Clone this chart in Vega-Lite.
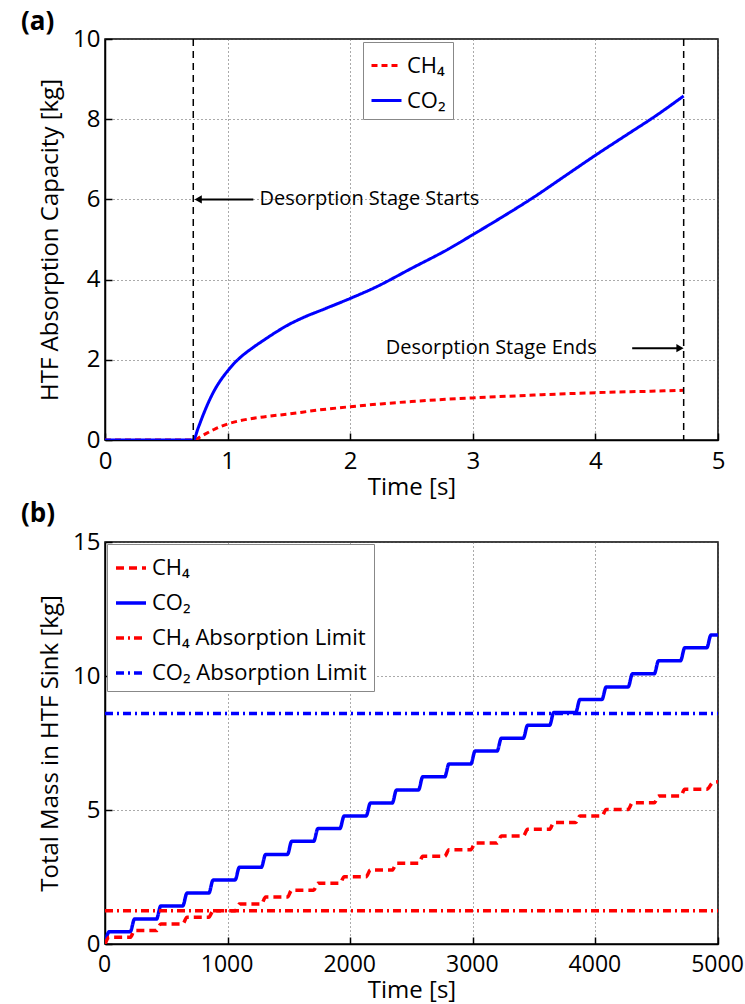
{
  "$schema": "https://vega.github.io/schema/vega-lite/v6.json",
  "background": "white",
  "padding": {"left": 20, "top": 8, "right": 0, "bottom": 0},
  "spacing": 0,
  "resolve": {
    "scale": {"x": "independent", "y": "independent", "color": "independent", "strokeDash": "independent", "strokeWidth": "independent", "shape": "independent"},
    "legend": {"color": "independent", "strokeDash": "independent", "strokeWidth": "independent", "shape": "independent"}
  },
  "config": {
    "font": "Open Sans",
    "view": {"stroke": "black", "strokeWidth": 1.5},
    "axis": {
      "labelFontSize": 24, "titleFontSize": 24, "titleFontWeight": "normal",
      "labelColor": "black", "titleColor": "black",
      "domainColor": "black", "domainWidth": 1.5,
      "tickColor": "black", "tickWidth": 1.5, "tickSize": -7,
      "grid": true, "gridDash": [1, 3], "gridColor": "#555", "gridWidth": 1,
      "labelFlush": false, "labelOverlap": false
    },
    "axisX": {"labelPadding": 16, "titlePadding": 2},
    "axisY": {"labelPadding": 12, "titlePadding": 10},
    "legend": {"labelLimit": 400}
  },
  "datasets": {
    "a_curves": [
      {"t": 0, "v": 0, "s": "CH₄"}, {"t": 0.72, "v": 0, "s": "CH₄"}, {"t": 0.8, "v": 0.12, "s": "CH₄"},
      {"t": 0.9, "v": 0.28, "s": "CH₄"}, {"t": 1.0, "v": 0.4, "s": "CH₄"}, {"t": 1.1, "v": 0.48, "s": "CH₄"},
      {"t": 1.25, "v": 0.56, "s": "CH₄"}, {"t": 1.5, "v": 0.65, "s": "CH₄"}, {"t": 1.75, "v": 0.75, "s": "CH₄"},
      {"t": 2.0, "v": 0.83, "s": "CH₄"}, {"t": 2.25, "v": 0.9, "s": "CH₄"}, {"t": 2.5, "v": 0.96, "s": "CH₄"},
      {"t": 2.75, "v": 1.01, "s": "CH₄"}, {"t": 3.0, "v": 1.05, "s": "CH₄"}, {"t": 3.5, "v": 1.12, "s": "CH₄"},
      {"t": 4.0, "v": 1.18, "s": "CH₄"}, {"t": 4.5, "v": 1.22, "s": "CH₄"}, {"t": 4.72, "v": 1.24, "s": "CH₄"},
      {"t": 0, "v": 0, "s": "CO₂"}, {"t": 0.72, "v": 0, "s": "CO₂"}, {"t": 0.76, "v": 0.3, "s": "CO₂"},
      {"t": 0.8, "v": 0.62, "s": "CO₂"}, {"t": 0.85, "v": 0.98, "s": "CO₂"}, {"t": 0.9, "v": 1.28, "s": "CO₂"},
      {"t": 0.95, "v": 1.52, "s": "CO₂"}, {"t": 1.0, "v": 1.72, "s": "CO₂"}, {"t": 1.05, "v": 1.9, "s": "CO₂"},
      {"t": 1.1, "v": 2.05, "s": "CO₂"}, {"t": 1.2, "v": 2.29, "s": "CO₂"}, {"t": 1.3, "v": 2.5, "s": "CO₂"},
      {"t": 1.4, "v": 2.7, "s": "CO₂"}, {"t": 1.5, "v": 2.88, "s": "CO₂"}, {"t": 1.6, "v": 3.03, "s": "CO₂"},
      {"t": 1.8, "v": 3.28, "s": "CO₂"}, {"t": 2.0, "v": 3.53, "s": "CO₂"}, {"t": 2.2, "v": 3.8, "s": "CO₂"},
      {"t": 2.5, "v": 4.28, "s": "CO₂"}, {"t": 2.8, "v": 4.76, "s": "CO₂"}, {"t": 3.0, "v": 5.12, "s": "CO₂"},
      {"t": 3.25, "v": 5.58, "s": "CO₂"}, {"t": 3.5, "v": 6.06, "s": "CO₂"}, {"t": 3.75, "v": 6.58, "s": "CO₂"},
      {"t": 4.0, "v": 7.1, "s": "CO₂"}, {"t": 4.25, "v": 7.6, "s": "CO₂"}, {"t": 4.5, "v": 8.1, "s": "CO₂"},
      {"t": 4.72, "v": 8.58, "s": "CO₂"}
    ],
    "a_vlines": [{"x": 0.72}, {"x": 4.72}],
    "a_arrows": [
      {"x": 0.76, "x2": 1.21, "y": 6.0, "dir": "left", "hx": 0.76},
      {"x": 4.3, "x2": 4.69, "y": 2.29, "dir": "right", "hx": 4.69}
    ],
    "a_text": [
      {"x": 1.26, "y": 6.0, "label": "Desorption Stage Starts"},
      {"x": 2.29, "y": 2.29, "label": "Desorption Stage Ends"}
    ],
    "b_curves": [
      {"t": 0, "v": 0, "s": "CO₂"}, {"t": 35, "v": 0.46, "s": "CO₂"}, {"t": 206, "v": 0.46, "s": "CO₂"},
      {"t": 241, "v": 0.93, "s": "CO₂"}, {"t": 420, "v": 0.93, "s": "CO₂"}, {"t": 455, "v": 1.42, "s": "CO₂"},
      {"t": 634, "v": 1.42, "s": "CO₂"}, {"t": 669, "v": 1.9, "s": "CO₂"}, {"t": 847, "v": 1.9, "s": "CO₂"},
      {"t": 882, "v": 2.39, "s": "CO₂"}, {"t": 1061, "v": 2.39, "s": "CO₂"}, {"t": 1096, "v": 2.86, "s": "CO₂"},
      {"t": 1275, "v": 2.86, "s": "CO₂"}, {"t": 1310, "v": 3.34, "s": "CO₂"}, {"t": 1488, "v": 3.34, "s": "CO₂"},
      {"t": 1523, "v": 3.83, "s": "CO₂"}, {"t": 1702, "v": 3.83, "s": "CO₂"}, {"t": 1737, "v": 4.31, "s": "CO₂"},
      {"t": 1916, "v": 4.31, "s": "CO₂"}, {"t": 1951, "v": 4.78, "s": "CO₂"}, {"t": 2130, "v": 4.78, "s": "CO₂"},
      {"t": 2165, "v": 5.26, "s": "CO₂"}, {"t": 2343, "v": 5.26, "s": "CO₂"}, {"t": 2378, "v": 5.75, "s": "CO₂"},
      {"t": 2557, "v": 5.75, "s": "CO₂"}, {"t": 2592, "v": 6.24, "s": "CO₂"}, {"t": 2771, "v": 6.24, "s": "CO₂"},
      {"t": 2806, "v": 6.72, "s": "CO₂"}, {"t": 2984, "v": 6.72, "s": "CO₂"}, {"t": 3019, "v": 7.2, "s": "CO₂"},
      {"t": 3198, "v": 7.2, "s": "CO₂"}, {"t": 3233, "v": 7.68, "s": "CO₂"}, {"t": 3412, "v": 7.68, "s": "CO₂"},
      {"t": 3447, "v": 8.16, "s": "CO₂"}, {"t": 3626, "v": 8.16, "s": "CO₂"}, {"t": 3661, "v": 8.64, "s": "CO₂"},
      {"t": 3839, "v": 8.64, "s": "CO₂"}, {"t": 3874, "v": 9.12, "s": "CO₂"}, {"t": 4053, "v": 9.12, "s": "CO₂"},
      {"t": 4088, "v": 9.59, "s": "CO₂"}, {"t": 4267, "v": 9.59, "s": "CO₂"}, {"t": 4302, "v": 10.08, "s": "CO₂"},
      {"t": 4480, "v": 10.08, "s": "CO₂"}, {"t": 4515, "v": 10.57, "s": "CO₂"}, {"t": 4694, "v": 10.57, "s": "CO₂"},
      {"t": 4729, "v": 11.05, "s": "CO₂"}, {"t": 4908, "v": 11.05, "s": "CO₂"}, {"t": 4943, "v": 11.53, "s": "CO₂"},
      {"t": 5000, "v": 11.53, "s": "CO₂"},
      {"t": 0, "v": 0, "s": "CH₄"}, {"t": 35, "v": 0.25, "s": "CH₄"}, {"t": 206, "v": 0.25, "s": "CH₄"},
      {"t": 241, "v": 0.5, "s": "CH₄"}, {"t": 420, "v": 0.5, "s": "CH₄"}, {"t": 455, "v": 0.75, "s": "CH₄"},
      {"t": 634, "v": 0.75, "s": "CH₄"}, {"t": 669, "v": 1.0, "s": "CH₄"}, {"t": 847, "v": 1.0, "s": "CH₄"},
      {"t": 882, "v": 1.24, "s": "CH₄"}, {"t": 1061, "v": 1.24, "s": "CH₄"}, {"t": 1096, "v": 1.49, "s": "CH₄"},
      {"t": 1275, "v": 1.49, "s": "CH₄"}, {"t": 1310, "v": 1.75, "s": "CH₄"}, {"t": 1488, "v": 1.75, "s": "CH₄"},
      {"t": 1523, "v": 2.01, "s": "CH₄"}, {"t": 1702, "v": 2.01, "s": "CH₄"}, {"t": 1737, "v": 2.27, "s": "CH₄"},
      {"t": 1916, "v": 2.27, "s": "CH₄"}, {"t": 1951, "v": 2.51, "s": "CH₄"}, {"t": 2130, "v": 2.51, "s": "CH₄"},
      {"t": 2165, "v": 2.76, "s": "CH₄"}, {"t": 2343, "v": 2.76, "s": "CH₄"}, {"t": 2378, "v": 3.01, "s": "CH₄"},
      {"t": 2557, "v": 3.01, "s": "CH₄"}, {"t": 2592, "v": 3.27, "s": "CH₄"}, {"t": 2771, "v": 3.27, "s": "CH₄"},
      {"t": 2806, "v": 3.52, "s": "CH₄"}, {"t": 2984, "v": 3.52, "s": "CH₄"}, {"t": 3019, "v": 3.77, "s": "CH₄"},
      {"t": 3198, "v": 3.77, "s": "CH₄"}, {"t": 3233, "v": 4.03, "s": "CH₄"}, {"t": 3412, "v": 4.03, "s": "CH₄"},
      {"t": 3447, "v": 4.28, "s": "CH₄"}, {"t": 3626, "v": 4.28, "s": "CH₄"}, {"t": 3661, "v": 4.53, "s": "CH₄"},
      {"t": 3839, "v": 4.53, "s": "CH₄"}, {"t": 3874, "v": 4.78, "s": "CH₄"}, {"t": 4053, "v": 4.78, "s": "CH₄"},
      {"t": 4088, "v": 5.02, "s": "CH₄"}, {"t": 4267, "v": 5.02, "s": "CH₄"}, {"t": 4302, "v": 5.27, "s": "CH₄"},
      {"t": 4480, "v": 5.27, "s": "CH₄"}, {"t": 4515, "v": 5.52, "s": "CH₄"}, {"t": 4694, "v": 5.52, "s": "CH₄"},
      {"t": 4729, "v": 5.77, "s": "CH₄"}, {"t": 4908, "v": 5.77, "s": "CH₄"}, {"t": 4960, "v": 6.03, "s": "CH₄"},
      {"t": 5000, "v": 6.05, "s": "CH₄"},
      {"t": 0, "v": 1.24, "s": "CH₄ Absorption Limit"}, {"t": 5000, "v": 1.24, "s": "CH₄ Absorption Limit"},
      {"t": 0, "v": 8.6, "s": "CO₂ Absorption Limit"}, {"t": 5000, "v": 8.6, "s": "CO₂ Absorption Limit"}
    ]
  },
  "vconcat": [
    {
      "title": {"text": "(a)", "anchor": "start", "frame": "group", "dx": -84, "offset": -8, "fontSize": 26, "fontWeight": "bold", "color": "black"},
      "width": 613,
      "height": 401,
      "layer": [
        {
          "data": {"name": "a_curves"},
          "mark": {"type": "line", "interpolate": "monotone", "strokeWidth": 3, "clip": true},
          "encoding": {
            "x": {"field": "t", "type": "quantitative", "scale": {"domain": [0, 5], "nice": false},
                  "axis": {"values": [0, 1, 2, 3, 4, 5], "format": "d", "title": "Time [s]"}},
            "y": {"field": "v", "type": "quantitative", "scale": {"domain": [0, 10], "nice": false},
                  "axis": {"values": [0, 2, 4, 6, 8, 10], "format": "d", "title": "HTF Absorption Capacity [kg]"}},
            "color": {"field": "s", "type": "nominal",
                      "scale": {"domain": ["CH₄", "CO₂"], "range": ["#ff0000", "#0000ff"]},
                      "legend": {"title": null, "orient": "none", "legendX": 258, "legendY": 3, "fillColor": "white", "strokeColor": "#888", "padding": 7, "rowPadding": 7, "labelFontSize": 22, "labelColor": "black", "symbolType": "stroke", "symbolStrokeWidth": 3, "symbolSize": 900, "labelOffset": 4}},
            "strokeDash": {"field": "s", "type": "nominal",
                      "scale": {"domain": ["CH₄", "CO₂"], "range": [[6, 4], [1, 0]]},
                      "legend": {"title": null, "orient": "none", "legendX": 258, "legendY": 3, "fillColor": "white", "strokeColor": "#888", "padding": 7, "rowPadding": 7, "labelFontSize": 22, "labelColor": "black", "symbolType": "stroke", "symbolStrokeWidth": 3, "symbolSize": 900, "labelOffset": 4}}
          }
        },
        {
          "data": {"name": "a_vlines"},
          "mark": {"type": "rule", "color": "black", "strokeWidth": 1.5, "strokeDash": [7, 5]},
          "encoding": {"x": {"field": "x", "type": "quantitative"}}
        },
        {
          "data": {"name": "a_arrows"},
          "mark": {"type": "rule", "color": "black", "strokeWidth": 2},
          "encoding": {
            "x": {"field": "x", "type": "quantitative"},
            "x2": {"field": "x2"},
            "y": {"field": "y", "type": "quantitative"}
          }
        },
        {
          "data": {"name": "a_arrows"},
          "mark": {"type": "point", "filled": true, "color": "black", "opacity": 1, "size": 70},
          "encoding": {
            "x": {"field": "hx", "type": "quantitative"},
            "y": {"field": "y", "type": "quantitative"},
            "shape": {"field": "dir", "type": "nominal", "scale": {"domain": ["left", "right"], "range": ["triangle-left", "triangle-right"]}, "legend": null}
          }
        },
        {
          "data": {"name": "a_text"},
          "mark": {"type": "text", "align": "left", "baseline": "middle", "fontSize": 20, "color": "black"},
          "encoding": {
            "x": {"field": "x", "type": "quantitative"},
            "y": {"field": "y", "type": "quantitative"},
            "text": {"field": "label"}
          }
        }
      ]
    },
    {
      "title": {"text": "(b)", "anchor": "start", "frame": "group", "dx": -84, "offset": 3, "fontSize": 26, "fontWeight": "bold", "color": "black"},
      "width": 613,
      "height": 402,
      "data": {"name": "b_curves"},
      "mark": {"type": "line", "interpolate": "monotone", "clip": true},
      "encoding": {
        "x": {"field": "t", "type": "quantitative", "scale": {"domain": [0, 5000], "nice": false},
              "axis": {"values": [0, 1000, 2000, 3000, 4000, 5000], "format": "d", "title": "Time [s]", "labelFontSize": 23, "labelOffset": -1}},
        "y": {"field": "v", "type": "quantitative", "scale": {"domain": [0, 15], "nice": false},
              "axis": {"values": [0, 5, 10, 15], "format": "d", "title": "Total Mass in HTF Sink [kg]"}},
        "color": {"field": "s", "type": "nominal",
                  "scale": {"domain": ["CH₄", "CO₂", "CH₄ Absorption Limit", "CO₂ Absorption Limit"], "range": ["#ff0000", "#0000ff", "#ff0000", "#0000ff"]},
                  "legend": {"title": null, "orient": "none", "legendX": 2, "legendY": 2, "fillColor": "white", "strokeColor": "#888", "padding": 7, "rowPadding": 7, "labelFontSize": 22, "labelColor": "black", "symbolType": "stroke", "symbolSize": 900, "labelOffset": 4}},
        "strokeDash": {"field": "s", "type": "nominal",
                  "scale": {"domain": ["CH₄", "CO₂", "CH₄ Absorption Limit", "CO₂ Absorption Limit"], "range": [[8, 5], [1, 0], [8, 4, 2, 4], [8, 4, 2, 4]]},
                  "legend": {"title": null, "orient": "none", "legendX": 2, "legendY": 2, "fillColor": "white", "strokeColor": "#888", "padding": 7, "rowPadding": 7, "labelFontSize": 22, "labelColor": "black", "symbolType": "stroke", "symbolSize": 900, "labelOffset": 4}},
        "strokeWidth": {"field": "s", "type": "nominal",
                  "scale": {"domain": ["CH₄", "CO₂", "CH₄ Absorption Limit", "CO₂ Absorption Limit"], "range": [3.5, 3.5, 1.5, 1.5]},
                  "legend": {"title": null, "orient": "none", "legendX": 2, "legendY": 2, "fillColor": "white", "strokeColor": "#888", "padding": 7, "rowPadding": 7, "labelFontSize": 22, "labelColor": "black", "symbolType": "stroke", "symbolSize": 900, "labelOffset": 4}}
      }
    }
  ]
}
